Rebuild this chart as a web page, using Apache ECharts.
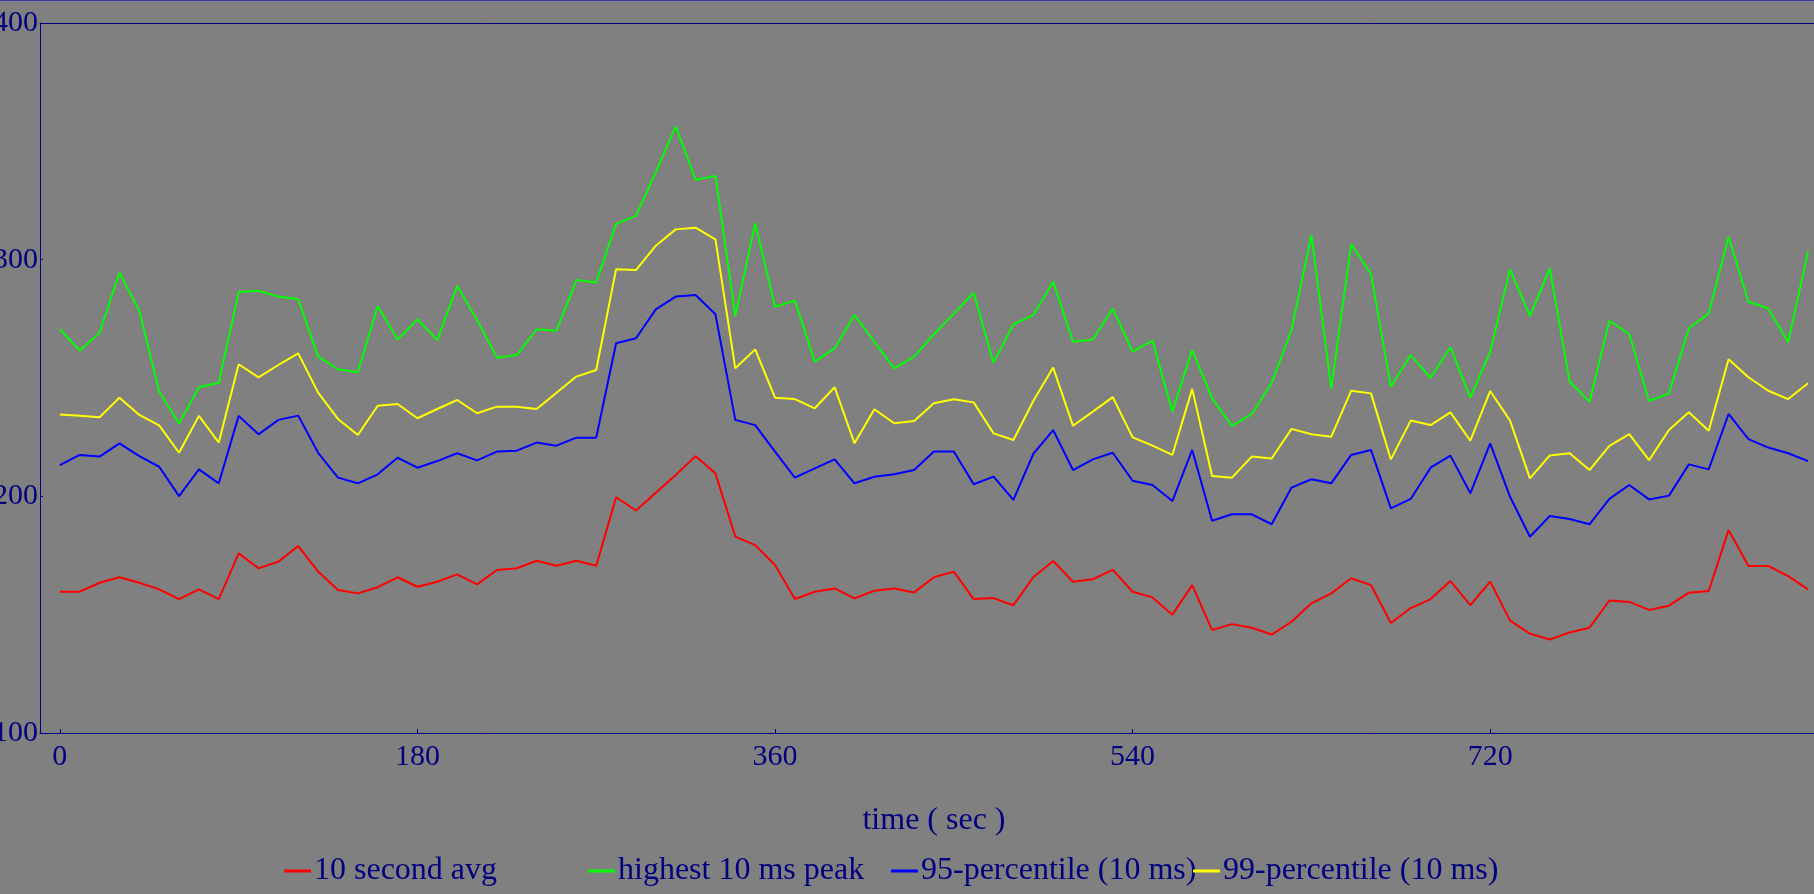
<!DOCTYPE html>
<html>
<head>
<meta charset="utf-8">
<script src="https://cdn.jsdelivr.net/npm/echarts@6/dist/echarts.min.js"></script>
<style>
html,body{margin:0;padding:0;background:#808080;}
#chart{width:1814px;height:894px;}
</style>
</head>
<body>
<div id="chart"></div>
<script>
var timeSec = [0,10,20,30,40,50,60,70,80,90,100,110,120,130,140,150,160,170,180,190,200,210,220,230,240,250,260,270,280,290,300,310,320,330,340,350,360,370,380,390,400,410,420,430,440,450,460,470,480,490,500,510,520,530,540,550,560,570,580,590,600,610,620,630,640,650,660,670,680,690,700,710,720,730,740,750,760,770,780,790,800,810,820,830,840,850,860,870,880];

var avg10s = [159.7,159.7,163.5,165.8,163.5,160.7,156.6,160.7,156.6,175.9,169.6,172.4,179,168.2,160.4,159,161.6,165.8,161.8,163.9,167,162.8,168.9,169.6,172.8,170.7,172.8,170.7,199.6,194,201.5,209,217,209.7,183,179.4,171,156.6,159.7,161.1,156.9,160.1,161.1,159.4,165.8,168.2,156.6,157,154,165.8,172.7,163.9,165,168.9,159.7,157.3,150,162.5,143.5,146,144.5,141.6,147,154.8,159,165.4,162.5,146.5,152.8,156.6,164.2,154,164,147.5,142,139.5,142.5,144.5,156,155.4,152,153.8,159.3,160,185.8,170.6,170.6,166.3,160.7];

var peak10ms = [270.6,261.6,269.1,294.5,278.4,244.3,230.8,246.1,248,286.3,286.9,284.4,283.3,259,253.7,252.4,280.4,266.3,274.8,266,288.9,274.5,258.6,259.7,270.6,270,291.4,290.4,315.1,318.5,337,356.3,333.7,335.4,276.2,315.4,280.1,282.7,256.9,262.5,276.6,265.3,254.1,259,268.5,277.2,286,256.5,272.7,276.6,290.7,265.3,266.3,279.4,261.1,265.8,235.8,261.8,241.4,229.8,234.8,248,270.3,310.4,245.6,306.6,294,246.3,259.7,250.1,263,241.7,261.1,295.9,276.2,296.3,248.4,240,274.2,268.6,240.3,243.5,271,277.3,309.7,282.2,279.4,265.1,303.4];

var p95 = [213.2,217.5,216.8,222.4,217,212.5,200.1,211.4,205.5,234,226.2,232.3,234.1,218.4,207.9,205.5,209.3,216.3,212.1,214.9,218.2,215.2,218.9,219.3,222.7,221.4,224.8,224.8,264.7,266.8,279,284.4,285.1,276.9,232.3,230.1,218.9,207.9,211.8,215.6,205.5,208.3,209.3,211.1,218.9,218.9,205.1,208.3,198.5,217.9,228,211.1,215.6,218.4,206.6,204.8,198,219.6,189.7,192.4,192.4,188.2,203.7,207.2,205.5,217.5,219.6,194.9,198.9,212.1,217.2,201.3,222.4,199.8,182.9,191.7,190.4,188.2,198.9,204.8,198.7,200.3,213.5,211.4,234.8,224.2,220.6,218.2,214.9];

var p99 = [234.6,234,233.4,241.7,234.4,230,218.4,234,222.7,255.8,250.3,255.5,260.4,243.8,232.7,225.9,238.3,239,233,236.9,240.7,235.1,237.9,237.9,236.9,243.8,250.6,253.4,296,295.6,305.9,312.8,313.5,308.6,254.1,262.1,241.7,241.1,237.2,246.1,222.4,236.8,230.9,231.8,239.3,241,239.7,226.6,223.8,240.3,254.4,229.8,235.8,241.9,224.9,221.4,217.5,245.4,208.6,207.9,216.8,216,228.5,226.2,225.2,244.6,243.5,215.6,232,230.1,235.5,223.5,244.5,232,207.6,217.3,218.2,211.1,221.3,226.3,215.3,228,235.5,227.7,257.9,250.3,244.6,241.1,247.8];

var xTickValues = [0,180,360,540,720];
var seriesNames = ['10 second avg','highest 10 ms peak','95-percentile (10 ms)','99-percentile (10 ms)'];
var seriesColors = ['#ff0000','#00ff00','#0000ff','#ffff00'];

function pairs(ys){ return ys.map(function(v,i){ return [timeSec[i], v]; }); }

var FONT = 'Liberation Serif';
var NAVY = '#000080';

var chart = echarts.init(document.getElementById('chart'), null, {renderer:'canvas'});

var legendLefts = [284, 588, 891, 1193];
var legends = seriesNames.map(function(n, i){
  return {
    data:[n], left: legendLefts[i], top: 855, padding: 0,
    icon:'rect', itemWidth: 27, itemHeight: 3, itemGap: 0,
    textStyle:{fontFamily:FONT, fontSize:32, color:NAVY, padding:[0,0,0,-2]},
    selectedMode:false
  };
});

var dataSets = [avg10s, peak10ms, p95, p99];

chart.setOption({
  backgroundColor:'#808080',
  animation:false,
  graphic:[{type:'rect', left:0, top:0, shape:{width:1814, height:1}, style:{fill:'#3a3aa8'}}],
  grid:{left:40, right:0, top:23, bottom:161, containLabel:false, outerBoundsMode:'none'},
  legend: legends,
  xAxis:[{
    type:'value', min:-10, max:883,
    axisLine:{show:true, onZero:false, lineStyle:{color:NAVY, width:1}},
    axisTick:{show:true, inside:true, length:4, customValues:xTickValues, lineStyle:{color:NAVY}},
    axisLabel:{show:true, customValues:xTickValues, margin:9, fontFamily:FONT, fontSize:30, color:NAVY},
    splitLine:{show:false},
    name:'time ( sec )', nameLocation:'middle', nameGap:72,
    nameTextStyle:{fontFamily:FONT, fontSize:32, color:NAVY, padding:[0,0,0,14]}
  },{
    type:'value', min:-10, max:883, position:'top',
    axisLine:{show:true, onZero:false, lineStyle:{color:NAVY, width:1}},
    axisTick:{show:false}, axisLabel:{show:false}, splitLine:{show:false}
  }],
  yAxis:{
    type:'value', min:100, max:400, interval:100,
    axisLine:{show:true, onZero:false, lineStyle:{color:NAVY, width:1}},
    axisTick:{show:true, inside:true, length:3, lineStyle:{color:NAVY}},
    axisLabel:{show:true, margin:2, fontFamily:FONT, fontSize:30, color:NAVY, showMinLabel:true, showMaxLabel:true},
    splitLine:{show:false}
  },
  series: seriesNames.map(function(n,i){
    return {
      name:n, type:'line', xAxisIndex:0, data:pairs(dataSets[i]),
      showSymbol:false, symbol:'none',
      lineStyle:{color:seriesColors[i], width:2},
      itemStyle:{color:seriesColors[i]},
      emphasis:{disabled:true}
    };
  })
});
</script>
</body>
</html>
